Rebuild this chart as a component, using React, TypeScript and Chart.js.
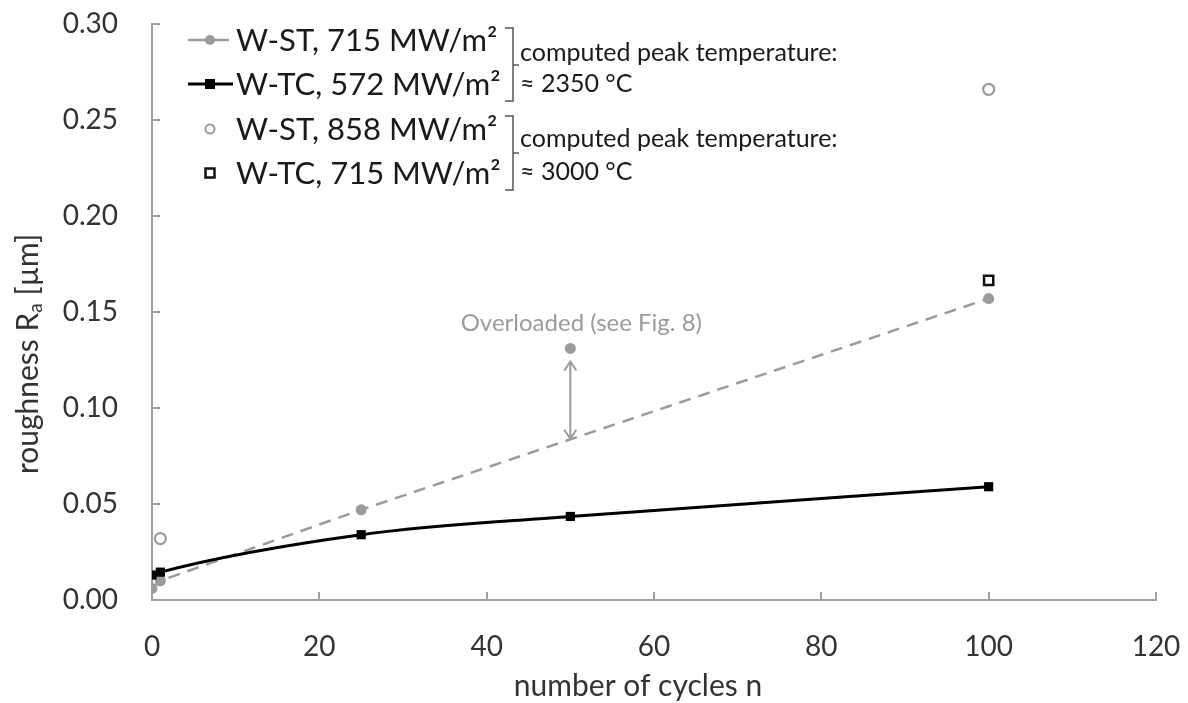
import React, { useEffect, useRef } from "react";
import { Chart, registerables } from "chart.js";

Chart.register(...registerables);

// ---- data ----
const xTickValues = [0, 20, 40, 60, 80, 100, 120];
const yTickValues = [0, 0.05, 0.1, 0.15, 0.2, 0.25, 0.3];

// W-ST, 715 MW/m² (grey dashed line, filled circles)
const stCycles = [0, 1, 25, 100];
const stRa = [0.006, 0.01, 0.047, 0.157];
// overloaded W-ST, 715 MW/m² sample
const overloadCycles = [50];
const overloadRa = [0.131];
// W-TC, 572 MW/m² (black solid line, filled squares)
const tcCycles = [0, 1, 25, 50, 100];
const tcRa = [0.013, 0.0145, 0.034, 0.0435, 0.059];
// W-ST, 858 MW/m² (open grey circles)
const stHighCycles = [1, 100];
const stHighRa = [0.032, 0.266];
// W-TC, 715 MW/m² (open black squares)
const tcHighCycles = [100];
const tcHighRa = [0.1665];

const legendLabels = [
  "W-ST, 715 MW/m²",
  "W-TC, 572 MW/m²",
  "W-ST, 858 MW/m²",
  "W-TC, 715 MW/m²",
];
const noteLine1 = ["computed peak temperature:", "computed peak temperature:"];
const noteLine2 = ["≈ 2350 °C", "≈ 3000 °C"];
const overloadText = "Overloaded (see Fig. 8)";
const overloadArrowTo = 0.084;

const xTitle = "number of cycles n";
const yTitleMain = "roughness R";
const yTitleSub = "a";
const yTitleEnd = " [µm]";

const GREY = "#9b9b9b";
const AXIS = "#a0a0a0";
const TEXT = "#333333";
const FONT = "Lato, 'Open Sans', sans-serif";

const pts = (xs: number[], ys: number[]) => xs.map((x, i) => ({ x, y: ys[i] }));

const zeroPad = (s: any) => {
  s.paddingTop = 0;
  s.paddingBottom = 0;
  s.paddingLeft = 0;
  s.paddingRight = 0;
};

const overlay = {
  id: "overlay",
  afterDraw(chart: any) {
    const { ctx, chartArea, scales } = chart;
    const x = scales.x;
    const y = scales.y;
    ctx.save();

    // inside tick marks
    ctx.strokeStyle = AXIS;
    ctx.lineWidth = 2;
    yTickValues.forEach((v) => {
      if (v === 0) return;
      const py = Math.round(y.getPixelForValue(v));
      ctx.beginPath();
      ctx.moveTo(chartArea.left, py);
      ctx.lineTo(chartArea.left + 8, py);
      ctx.stroke();
    });
    xTickValues.forEach((v) => {
      if (v === 0) return;
      const px = Math.round(x.getPixelForValue(v));
      ctx.beginPath();
      ctx.moveTo(px, chartArea.bottom);
      ctx.lineTo(px, chartArea.bottom - 8);
      ctx.stroke();
    });

    // x axis title
    ctx.fillStyle = TEXT;
    ctx.font = `30px ${FONT}`;
    ctx.textAlign = "center";
    ctx.textBaseline = "middle";
    ctx.fillText(xTitle, 638, 686);

    // y axis title with subscript
    ctx.save();
    ctx.translate(28, 354);
    ctx.rotate(-Math.PI / 2);
    ctx.fillStyle = TEXT;
    ctx.textBaseline = "middle";
    ctx.textAlign = "left";
    const mainFont = `30px ${FONT}`;
    const subFont = `19px ${FONT}`;
    ctx.font = mainFont;
    const w1 = ctx.measureText(yTitleMain).width;
    const w3 = ctx.measureText(yTitleEnd).width;
    ctx.font = subFont;
    const w2 = ctx.measureText(yTitleSub).width;
    let sx = -(w1 + w2 + w3) / 2;
    ctx.font = mainFont;
    ctx.fillText(yTitleMain, sx, 0);
    sx += w1;
    ctx.font = subFont;
    ctx.fillText(yTitleSub, sx, 8);
    sx += w2;
    ctx.font = mainFont;
    ctx.fillText(yTitleEnd, sx, 0);
    ctx.restore();

    // overloaded annotation
    const ax = x.getPixelForValue(overloadCycles[0]);
    const aTop = y.getPixelForValue(overloadRa[0]) + 13;
    const aBot = y.getPixelForValue(overloadArrowTo);
    ctx.strokeStyle = GREY;
    ctx.lineWidth = 2;
    ctx.beginPath();
    ctx.moveTo(ax, aTop);
    ctx.lineTo(ax, aBot);
    ctx.moveTo(ax - 6, aTop + 9);
    ctx.lineTo(ax, aTop);
    ctx.lineTo(ax + 6, aTop + 9);
    ctx.moveTo(ax - 6, aBot - 9);
    ctx.lineTo(ax, aBot);
    ctx.lineTo(ax + 6, aBot - 9);
    ctx.stroke();
    ctx.fillStyle = GREY;
    ctx.font = `24px ${FONT}`;
    ctx.textAlign = "center";
    ctx.textBaseline = "middle";
    ctx.fillText(overloadText, ax + 11, y.getPixelForValue(overloadRa[0]) - 25);

    // legend
    const rows = [40, 84, 129, 173];
    const mx = 210;
    // row 1: grey dashed line + filled circle
    ctx.strokeStyle = GREY;
    ctx.lineWidth = 2.5;
    ctx.beginPath();
    ctx.moveTo(188, rows[0]);
    ctx.lineTo(229, rows[0]);
    ctx.stroke();
    ctx.fillStyle = GREY;
    ctx.beginPath();
    ctx.arc(mx, rows[0], 5, 0, Math.PI * 2);
    ctx.fill();
    // row 2: black line + filled square
    ctx.strokeStyle = "#000";
    ctx.lineWidth = 3;
    ctx.beginPath();
    ctx.moveTo(188, rows[1]);
    ctx.lineTo(233, rows[1]);
    ctx.stroke();
    ctx.fillStyle = "#000";
    ctx.fillRect(mx - 5, rows[1] - 5, 10, 10);
    // row 3: open grey circle
    ctx.strokeStyle = GREY;
    ctx.lineWidth = 2;
    ctx.fillStyle = "#fff";
    ctx.beginPath();
    ctx.arc(mx, rows[2], 4.5, 0, Math.PI * 2);
    ctx.fill();
    ctx.stroke();
    // row 4: open black square
    ctx.strokeStyle = "#111";
    ctx.lineWidth = 2.5;
    ctx.strokeRect(mx - 4.5, rows[3] - 4.5, 9, 9);

    ctx.fillStyle = "#1a1a1a";
    ctx.font = `31px ${FONT}`;
    ctx.textAlign = "left";
    ctx.textBaseline = "middle";
    legendLabels.forEach((t, i) => ctx.fillText(t, 236, rows[i] + 1));

    // brackets and notes
    const groups = [
      { top: 28, bot: 101, mid: 65, l1: 53, l2: 84 },
      { top: 116, bot: 190, mid: 153, l1: 139, l2: 172 },
    ];
    groups.forEach((g, i) => {
      ctx.strokeStyle = "#555";
      ctx.lineWidth = 1.5;
      ctx.beginPath();
      ctx.moveTo(505, g.top);
      ctx.lineTo(513, g.top);
      ctx.lineTo(513, g.bot);
      ctx.lineTo(505, g.bot);
      ctx.moveTo(513, g.mid);
      ctx.lineTo(519, g.mid);
      ctx.stroke();
      ctx.fillStyle = "#1a1a1a";
      ctx.font = `25px ${FONT}`;
      ctx.fillText(noteLine1[i], 520, g.l1);
      ctx.fillText(noteLine2[i], 520, g.l2);
    });

    ctx.restore();
  },
};

export default function App() {
  const ref = useRef<HTMLCanvasElement>(null);
  useEffect(() => {
    document.body.style.margin = "0";
    const chart = new Chart(ref.current as HTMLCanvasElement, {
      type: "scatter",
      data: {
        datasets: [
          {
            label: legendLabels[1],
            data: pts(tcCycles, tcRa),
            showLine: true,
            borderColor: "#000",
            backgroundColor: "#000",
            borderWidth: 3,
            cubicInterpolationMode: "monotone",
            pointStyle: "rect",
            pointRadius: 6.5,
            pointBorderWidth: 0,
          },
          {
            label: legendLabels[3],
            data: pts(tcHighCycles, tcHighRa),
            showLine: false,
            borderColor: "#111",
            backgroundColor: "#fff",
            pointStyle: "rect",
            pointRadius: 6.5,
            pointBorderWidth: 2.5,
          },
          {
            label: legendLabels[0],
            data: pts(stCycles, stRa),
            showLine: true,
            borderColor: GREY,
            backgroundColor: GREY,
            borderWidth: 2.5,
            borderDash: [12, 8],
            pointStyle: "circle",
            pointRadius: 5.5,
            pointBorderWidth: 0,
          },
          {
            label: "overloaded",
            data: pts(overloadCycles, overloadRa),
            showLine: false,
            backgroundColor: GREY,
            borderColor: GREY,
            pointRadius: 5.5,
            pointBorderWidth: 0,
          },
          {
            label: legendLabels[2],
            data: pts(stHighCycles, stHighRa),
            showLine: false,
            borderColor: GREY,
            backgroundColor: "#fff",
            pointRadius: 5.5,
            pointBorderWidth: 2.2,
          },
        ],
      },
      options: {
        animation: false,
        responsive: false,
        events: [],
        layout: { padding: { left: 0, right: 32, top: 24, bottom: 0 } },
        plugins: {
          legend: { display: false },
          tooltip: { enabled: false },
        },
        scales: {
          x: {
            type: "linear",
            min: 0,
            max: 120,
            afterBuildTicks: (s: any) => {
              s.ticks = xTickValues.map((v) => ({ value: v }));
            },
            afterFit: (s: any) => {
              s.height = 103;
              zeroPad(s);
            },
            grid: { display: false, drawTicks: false },
            border: { display: true, color: AXIS, width: 2 },
            ticks: {
              color: TEXT,
              font: { family: FONT, size: 28 },
              padding: 30,
            },
            title: { display: false },
          },
          y: {
            type: "linear",
            min: 0,
            max: 0.3,
            afterBuildTicks: (s: any) => {
              s.ticks = yTickValues.map((v) => ({ value: v }));
            },
            afterFit: (s: any) => {
              s.width = 152;
              zeroPad(s);
            },
            grid: { display: false, drawTicks: false },
            border: { display: true, color: AXIS, width: 2 },
            ticks: {
              color: TEXT,
              font: { family: FONT, size: 28 },
              padding: 34,
              callback: (v: any) => Number(v).toFixed(2),
            },
          },
        },
      },
      plugins: [overlay],
    } as any);
    return () => chart.destroy();
  }, []);
  return (
    <div style={{ position: "absolute", left: 0, top: 0, width: 1188, height: 703, background: "#fff" }}>
      <canvas ref={ref} width={1188} height={703} />
    </div>
  );
}
